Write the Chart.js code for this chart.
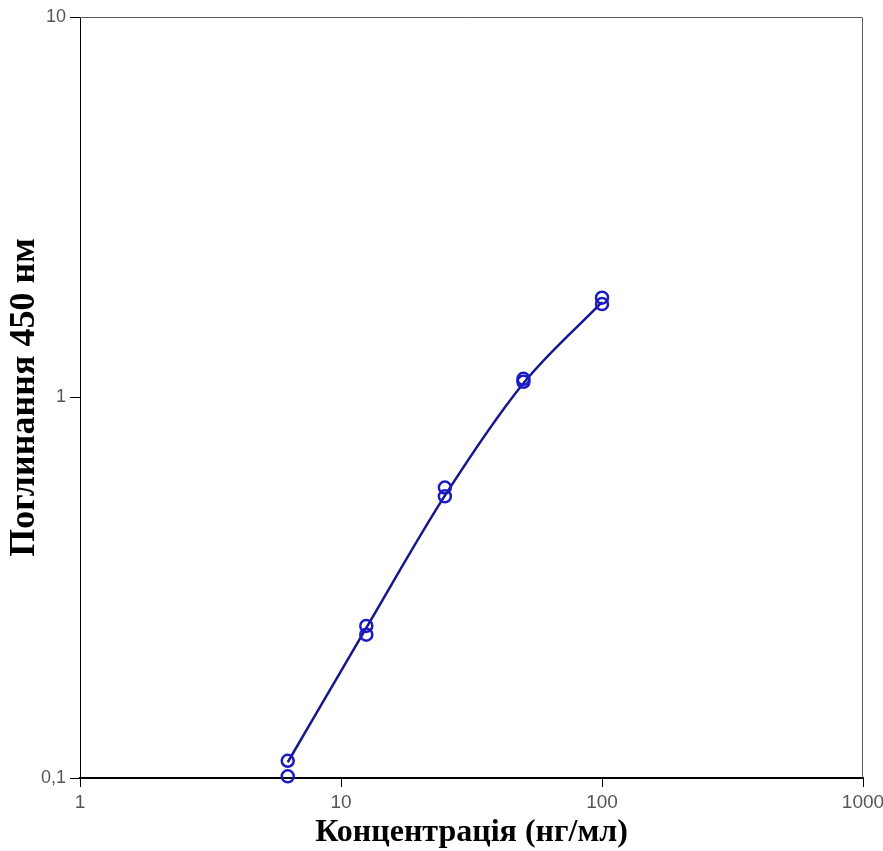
<!DOCTYPE html>
<html>
<head>
<meta charset="utf-8">
<script src="https://cdn.jsdelivr.net/npm/chart.js@4"></script>
<style>
  html, body { margin: 0; padding: 0; background: #ffffff; }
  #wrap { width: 883px; height: 851px; }
</style>
</head>
<body>
<div id="wrap"><canvas id="c" width="883" height="851"></canvas></div>
<script>
// Concentration (ng/ml) of standards
const concentrations = [6.25, 12.5, 25, 50, 100];
// Absorbance at 450 nm, two replicates
const replicateA = [0.111, 0.251, 0.580, 1.12, 1.83];
const replicateB = [0.101, 0.238, 0.550, 1.10, 1.76];
// Fitted standard curve read at the standard concentrations
const fitCurve = [0.110, 0.248, 0.552, 1.09, 1.78];
// Axis ticks
const xTickValues = [1, 10, 100, 1000];
const xTickLabels = ['1', '10', '100', '1000'];
const yTickValues = [0.1, 1, 10];
const yTickLabels = ['0,1', '1', '10'];
const xTitle = 'Концентрація (нг/мл)';
const yTitle = 'Поглинання 450 нм';

const toXY = (xs, ys) => xs.map((x, i) => ({ x: x, y: ys[i] }));
const pointsAll = toXY(concentrations, replicateA).concat(toXY(concentrations, replicateB));

const frame = {
  id: 'frame',
  afterDraw(chart) {
    const { ctx, chartArea: a } = chart;
    ctx.save();
    ctx.strokeStyle = '#5a5a5a';
    ctx.lineWidth = 1;
    ctx.beginPath();
    ctx.moveTo(a.left, a.top + 0.5);
    ctx.lineTo(a.right - 0.5, a.top + 0.5);
    ctx.lineTo(a.right - 0.5, a.bottom);
    ctx.stroke();
    ctx.restore();
  }
};

new Chart(document.getElementById('c'), {
  type: 'scatter',
  data: {
    datasets: [
      {
        type: 'line',
        data: toXY(concentrations, fitCurve),
        borderColor: '#16168f',
        borderWidth: 2.5,
        pointRadius: 0,
        fill: false,
        cubicInterpolationMode: 'monotone',
        order: 2
      },
      {
        data: pointsAll,
        pointStyle: 'circle',
        pointRadius: 6,
        pointBorderWidth: 2.5,
        borderColor: '#1b1bc4',
        backgroundColor: 'rgba(0,0,0,0)',
        clip: false,
        order: 1
      }
    ]
  },
  options: {
    responsive: false,
    animation: false,
    devicePixelRatio: 1,
    layout: { padding: { top: 17, right: 20, left: 0, bottom: 0 } },
    plugins: { legend: { display: false }, tooltip: { enabled: false } },
    scales: {
      x: {
        type: 'logarithmic',
        min: 1, max: 1000,
        afterBuildTicks: s => { s.ticks = xTickValues.map(v => ({ value: v })); },
        afterFit: s => { s.height = 73; s.paddingLeft = 0; s.paddingRight = 0; },
        grid: { display: true, drawOnChartArea: false, drawTicks: true, tickLength: 9, color: '#000', lineWidth: 1 },
        border: { display: true, color: '#000', width: 2 },
        ticks: {
          autoSkip: false, maxRotation: 0, padding: 4,
          color: '#555',
          font: { family: 'Liberation Sans, Arial, sans-serif', size: 19 },
          callback: (v, i) => xTickLabels[i]
        },
        title: {
          display: true, text: xTitle, color: '#000',
          font: { family: 'Liberation Serif, Times New Roman, serif', size: 32, weight: 'bold', lineHeight: 1 },
          padding: { top: 0, bottom: 2 }
        }
      },
      y: {
        type: 'logarithmic',
        min: 0.1, max: 10,
        afterBuildTicks: s => { s.ticks = yTickValues.map(v => ({ value: v })); },
        afterFit: s => { s.width = 80; s.paddingTop = 0; s.paddingBottom = 0; },
        grid: { display: true, drawOnChartArea: false, drawTicks: true, tickLength: 10, color: '#000', lineWidth: 1 },
        border: { display: true, color: '#000', width: 1 },
        ticks: {
          autoSkip: false, padding: 4,
          color: '#555',
          font: { family: 'Liberation Sans, Arial, sans-serif', size: 18 },
          callback: (v, i) => yTickLabels[i]
        },
        title: {
          display: true, text: yTitle, color: '#000',
          font: { family: 'Liberation Serif, Times New Roman, serif', size: 36, weight: 'bold', lineHeight: 1 },
          padding: { top: 7, bottom: 0 }
        }
      }
    }
  },
  plugins: [frame]
});
</script>
</body>
</html>
